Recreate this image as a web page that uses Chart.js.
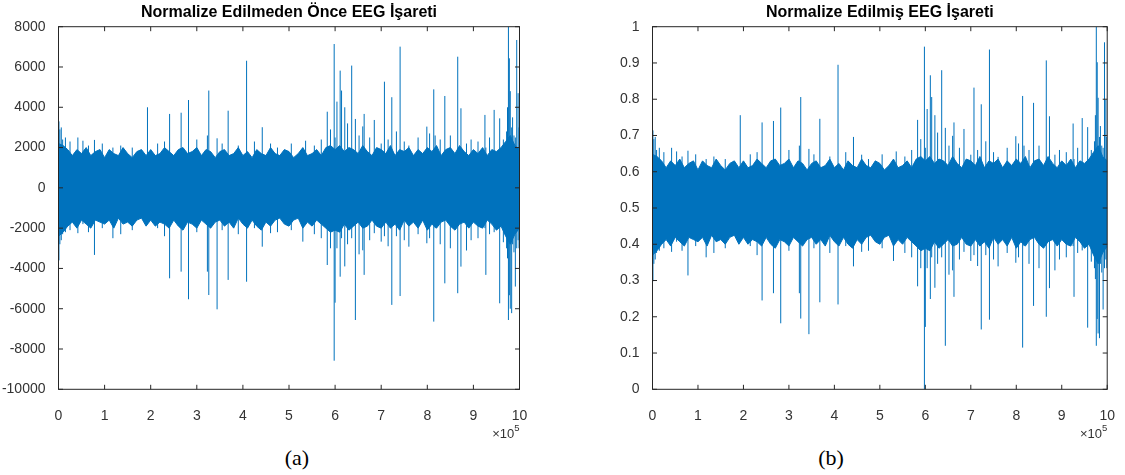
<!DOCTYPE html>
<html>
<head>
<meta charset="utf-8">
<script src="https://cdn.jsdelivr.net/npm/chart.js@4.4.1/dist/chart.umd.min.js"></script>
<style>
  body { margin: 0; background: #fff; width: 1125px; height: 475px; overflow: hidden; position: relative; }
  canvas { position: absolute; top: 0; }
  #rawChart { left: 0; }
  #normChart { left: 562px; }
  .cap { position: absolute; top: 445px; width: 60px; text-align: center; line-height: 26px;
         font-family: "Liberation Serif", "Times New Roman", serif; font-size: 22px; color: #000; }
</style>
</head>
<body>
<canvas id="rawChart" width="562" height="445"></canvas>
<canvas id="normChart" width="563" height="445"></canvas>
<div class="cap" style="left:267px">(a)</div>
<div class="cap" style="left:801px">(b)</div>
<script>
// sample index, in units of 10^5
const bandX = [0,0.1,0.2,0.3,0.4,0.5,0.6,0.7,0.8,0.9,
  1,1.1,1.2,1.3,1.4,1.5,1.6,1.7,1.8,1.9,
  2,2.1,2.2,2.3,2.4,2.5,2.6,2.7,2.8,2.9,
  3,3.1,3.2,3.3,3.4,3.5,3.6,3.7,3.8,3.9,
  4,4.1,4.2,4.3,4.4,4.5,4.6,4.7,4.8,4.9,
  5,5.1,5.2,5.3,5.4,5.5,5.6,5.7,5.8,5.9,
  6,6.1,6.2,6.3,6.4,6.5,6.6,6.7,6.8,6.9,
  7,7.1,7.2,7.3,7.4,7.5,7.6,7.7,7.8,7.9,
  8,8.1,8.2,8.3,8.4,8.5,8.6,8.7,8.8,8.9,
  9,9.1,9.2,9.3,9.4,9.5,9.6,9.7,9.8,9.9,
  10];

// envelope of the dense part of the signal (raw)
const rawHi = [2200,2100,1900,1600,1900,1700,2000,1600,1800,1900,
  1500,1900,1700,1600,2000,1700,1500,1800,1900,1600,
  1900,1600,1700,2000,1800,1600,1900,2000,1700,1800,
  2000,1600,1900,1800,1500,1800,1900,1600,1700,2000,
  1600,1800,1500,1900,1700,1600,2000,1700,1600,1900,
  1800,1500,1700,2000,1600,1700,1900,1600,2000,2100,
  1900,2100,1800,2000,1900,1700,2100,1800,1600,2000,
  1900,1700,2100,1600,1900,1800,2000,1600,1900,1700,
  2000,1800,2100,1600,1900,2000,1700,2100,1800,1600,
  1900,1700,2000,1600,1900,1800,2000,2300,2600,2100,
  1900];
const rawLo = [-2400,-2200,-1900,-1700,-2000,-1600,-1800,-2000,-1600,-1700,
  -1800,-1600,-2000,-1500,-1800,-1700,-1900,-1600,-1500,-1900,
  -1600,-1900,-1700,-1800,-2000,-1600,-1900,-2100,-1700,-1800,
  -2000,-1600,-1800,-2000,-1700,-1600,-1900,-1700,-2000,-1500,
  -1800,-2000,-1600,-1900,-2100,-1700,-1900,-1600,-1500,-1800,
  -1900,-1600,-1500,-2000,-1700,-1900,-1600,-1800,-2000,-2200,
  -2100,-2200,-1800,-2100,-1900,-1700,-2000,-1900,-1600,-1900,
  -2000,-1700,-2000,-1800,-2100,-1600,-1900,-1700,-2000,-1600,
  -2100,-1800,-2000,-1700,-1600,-1900,-2100,-1800,-1700,-2000,
  -1700,-1900,-2000,-1600,-1800,-2100,-1900,-2400,-2800,-2300,
  -2000];

// same envelope, normalized
const normHi = [0.648,0.642,0.630,0.611,0.630,0.617,0.635,0.611,0.623,0.630,
  0.605,0.630,0.617,0.611,0.635,0.617,0.605,0.623,0.630,0.611,
  0.630,0.611,0.617,0.635,0.623,0.611,0.630,0.635,0.617,0.623,
  0.635,0.611,0.630,0.623,0.605,0.623,0.630,0.611,0.617,0.635,
  0.611,0.623,0.605,0.630,0.617,0.611,0.635,0.617,0.611,0.630,
  0.623,0.605,0.617,0.635,0.611,0.617,0.630,0.611,0.635,0.642,
  0.630,0.642,0.623,0.635,0.630,0.617,0.642,0.623,0.611,0.635,
  0.630,0.617,0.642,0.611,0.630,0.623,0.635,0.611,0.630,0.617,
  0.635,0.623,0.642,0.611,0.630,0.635,0.617,0.642,0.623,0.611,
  0.630,0.617,0.635,0.611,0.630,0.623,0.635,0.654,0.672,0.642,
  0.630];
const normLo = [0.370,0.382,0.400,0.413,0.395,0.419,0.407,0.395,0.419,0.413,
  0.407,0.419,0.395,0.425,0.407,0.413,0.400,0.419,0.425,0.400,
  0.419,0.400,0.413,0.407,0.395,0.419,0.400,0.389,0.413,0.407,
  0.395,0.419,0.407,0.395,0.413,0.419,0.400,0.413,0.395,0.425,
  0.407,0.395,0.419,0.400,0.389,0.413,0.400,0.419,0.425,0.407,
  0.400,0.419,0.425,0.395,0.413,0.400,0.419,0.407,0.395,0.382,
  0.389,0.382,0.407,0.389,0.400,0.413,0.395,0.400,0.419,0.400,
  0.395,0.413,0.395,0.407,0.389,0.419,0.400,0.413,0.395,0.419,
  0.389,0.407,0.395,0.413,0.419,0.400,0.389,0.407,0.413,0.395,
  0.413,0.400,0.395,0.419,0.407,0.389,0.400,0.370,0.346,0.376,
  0.395];

// small bursts along the edge of the band
const fringeX = [0.01,0.03,0.06,0.09,0.15,0.25,0.65,0.95,1.35,1.60,
  2.15,2.30,3.00,3.55,3.90,4.25,4.75,5.05,5.55,5.70,
  5.90,6.27,6.52,6.75,7.15,7.33,7.50,7.80,8.05,8.28,
  8.50,8.95,9.10,9.35,9.65,9.72,9.85,9.88,9.99];
const rawFringeHi = [3300,2900,3000,2400,2500,2300,2100,2200,2100,2000,
  2200,2300,2400,2200,2100,2300,2000,2200,2100,2400,
  2900,3200,2600,2500,2400,2800,2300,2500,2700,2400,
  2600,2400,2300,2500,2400,2800,3500,2600,3000];
const rawFringeLo = [-3600,-2800,-2600,-2300,-2200,-2100,-2200,-2000,-2300,-2100,
  -2000,-2400,-2200,-2100,-2300,-2000,-2200,-2100,-2300,-2500,
  -3000,-2800,-3300,-2600,-2900,-2400,-2600,-2300,-2500,-2800,
  -3000,-2600,-2500,-2300,-2700,-3000,-2800,-3200,-3000];
const normFringeHi = [0.714,0.690,0.696,0.660,0.666,0.654,0.642,0.648,0.642,0.635,
  0.648,0.654,0.660,0.648,0.642,0.654,0.635,0.648,0.642,0.660,
  0.690,0.708,0.672,0.666,0.660,0.684,0.654,0.666,0.678,0.660,
  0.672,0.660,0.654,0.666,0.660,0.684,0.726,0.672,0.696];
const normFringeLo = [0.298,0.346,0.358,0.376,0.382,0.389,0.382,0.395,0.376,0.389,
  0.395,0.370,0.382,0.389,0.376,0.395,0.382,0.389,0.376,0.364,
  0.334,0.346,0.316,0.358,0.340,0.370,0.358,0.376,0.364,0.346,
  0.334,0.358,0.364,0.376,0.352,0.334,0.346,0.322,0.334];

// isolated spikes (artifacts)
const spikeX = [0.42,0.53,0.78,1.18,1.93, 2.41,2.66,2.82,3.23,3.26,
  3.44,3.68,4.08,4.42,4.60, 5.30,5.36,5.83,5.98,6.00,
  6.04,6.11,6.14,6.21,6.36, 6.44,6.60,6.63,6.85,7.00,
  7.07,7.23,7.41,7.60,7.99, 8.14,8.17,8.38,8.66,8.73,
  8.85,9.25,9.27,9.45,9.57, 9.74,9.76,9.78,9.80,9.83,
  9.91,9.94,9.97];
const rawSpikeHi = [2500,2340,2380,2000,4000, 3670,3730,4360,2600,4830,
  2460,3830,6310,3010,2200, 1900,2340,3780,7140,2500,
  4280,5820,4830,4000,6070, 3420,3050,3670,3370,2200,
  5270,4500,7010,2100,3040, 4890,2600,4560,6510,3950,
  2200,3620,2000,3870,3450, 4000,8050,6430,4800,3000,
  2500,7340,4700];
const rawSpikeLo = [-2250,-1800,-3330,-2500,-1800, -4490,-4160,-5530,-4160,-5320,
  -6030,-4570,-4660,-2920,-2250, -2670,-1800,-3830,-8580,-5700,
  -3000,-4410,-2500,-3900,-2500, -6560,-3100,-4320,-2250,-2670,
  -2400,-5810,-5370,-2920,-2750, -6640,-2000,-4740,-5230,-3910,
  -3110,-2000,-4320,-2200,-5730, -3500,-6560,-5330,-6000,-6220,
  -4900,-3000,-2600];
const normSpikeHi = [0.666,0.656,0.658,0.635,0.756, 0.736,0.740,0.777,0.672,0.806,
  0.663,0.746,0.895,0.696,0.647, 0.629,0.656,0.743,0.945,0.666,
  0.773,0.866,0.806,0.756,0.880, 0.721,0.699,0.736,0.718,0.647,
  0.832,0.786,0.937,0.641,0.698, 0.809,0.672,0.790,0.907,0.753,
  0.647,0.733,0.635,0.748,0.723, 0.756,1.0,0.902,0.804,0.696,
  0.666,0.957,0.798];
const normSpikeLo = [0.379,0.407,0.314,0.364,0.407, 0.245,0.265,0.182,0.265,0.195,
  0.152,0.240,0.234,0.339,0.379, 0.354,0.407,0.284,0.0,0.172,
  0.334,0.249,0.364,0.280,0.364, 0.120,0.328,0.255,0.379,0.354,
  0.370,0.165,0.192,0.339,0.349, 0.115,0.395,0.230,0.200,0.279,
  0.328,0.395,0.255,0.383,0.170, 0.304,0.120,0.194,0.154,0.141,
  0.220,0.334,0.358];

const xTicks = [0,1,2,3,4,5,6,7,8,9,10];

const BLUE = '#0072BD';
const FONT = '"Liberation Sans", Arial, sans-serif';

// MATLAB style box with inner ticks and the x10^5 exponent
const matlabBox = {
  id: 'matlabBox',
  afterDraw(chart) {
    const ctx = chart.ctx;
    const a = chart.chartArea;
    const xs = chart.scales.x, ys = chart.scales.y;
    ctx.save();
    ctx.strokeStyle = '#262626';
    ctx.lineWidth = 1;
    ctx.strokeRect(a.left, a.top, a.right - a.left, a.bottom - a.top);
    ctx.beginPath();
    xs.ticks.forEach(t => {
      const px = xs.getPixelForValue(t.value);
      ctx.moveTo(px, a.bottom); ctx.lineTo(px, a.bottom - 4.5);
      ctx.moveTo(px, a.top); ctx.lineTo(px, a.top + 4.5);
    });
    ys.ticks.forEach(t => {
      const py = ys.getPixelForValue(t.value);
      ctx.moveTo(a.left, py); ctx.lineTo(a.left + 4.5, py);
      ctx.moveTo(a.right, py); ctx.lineTo(a.right - 4.5, py);
    });
    ctx.stroke();
    ctx.fillStyle = '#333';
    ctx.textAlign = 'right';
    ctx.textBaseline = 'alphabetic';
    ctx.font = '9.5px ' + FONT;
    ctx.fillText('5', a.right, a.bottom + 42);
    const w5 = ctx.measureText('5').width;
    ctx.font = '13px ' + FONT;
    ctx.fillText('\u00d710', a.right - w5, a.bottom + 49);
    ctx.restore();
  }
};

function spikePoints(xs, hi, lo) {
  const pts = [];
  xs.forEach((x, i) => {
    pts.push({x: x, y: lo[i]}, {x: x, y: hi[i]}, {x: x, y: null});
  });
  return pts;
}

function makeChart(id, title, d, yMin, yMax, yStep, yWidth, padRight, fmt) {
  const ctx = document.getElementById(id).getContext('2d');
  return new Chart(ctx, {
    type: 'line',
    data: {
      datasets: [
        {
          data: bandX.map((x, i) => ({x: x, y: d.hi[i]})),
          borderColor: BLUE,
          backgroundColor: BLUE,
          borderWidth: 1,
          fill: '+1',
          pointRadius: 0
        },
        {
          data: bandX.map((x, i) => ({x: x, y: d.lo[i]})),
          borderColor: BLUE,
          borderWidth: 1,
          fill: false,
          pointRadius: 0
        },
        {
          data: spikePoints(fringeX, d.fHi, d.fLo),
          borderColor: BLUE,
          borderWidth: 1,
          fill: false,
          spanGaps: false,
          pointRadius: 0
        },
        {
          data: spikePoints(spikeX, d.sHi, d.sLo),
          borderColor: BLUE,
          borderWidth: 1,
          fill: false,
          spanGaps: false,
          pointRadius: 0
        }
      ]
    },
    options: {
      responsive: false,
      animation: false,
      events: [],
      layout: { padding: { left: 0, right: padRight, top: 0, bottom: 0 } },
      plugins: {
        legend: { display: false },
        tooltip: { enabled: false },
        title: {
          display: true,
          text: title,
          fullSize: false,
          color: '#000',
          font: { family: FONT, size: 16, weight: 'bold' },
          padding: { top: 3, bottom: 4.5 }
        }
      },
      scales: {
        x: {
          type: 'linear',
          min: 0,
          max: 10,
          afterBuildTicks: s => { s.ticks = xTicks.map(v => ({value: v})); },
          afterFit: s => { s.height = 55.7; },
          grid: { display: false },
          border: { display: false },
          ticks: { padding: 10, maxRotation: 0, autoSkip: false, color: '#333',
                   font: { family: FONT, size: 14 }, callback: v => String(v) }
        },
        y: {
          min: yMin,
          max: yMax,
          afterFit: s => { s.width = yWidth; },
          grid: { display: false },
          border: { display: false },
          ticks: { stepSize: yStep, padding: 5, color: '#333',
                   font: { family: FONT, size: 14 }, callback: fmt }
        }
      }
    },
    plugins: [matlabBox]
  });
}

makeChart('rawChart', 'Normalize Edilmeden \u00d6nce EEG \u0130\u015fareti',
  { hi: rawHi, lo: rawLo, fHi: rawFringeHi, fLo: rawFringeLo, sHi: rawSpikeHi, sLo: rawSpikeLo },
  -10000, 8000, 2000, 58.5, 42.5, v => String(v));
makeChart('normChart', 'Normalize Edilmi\u015f EEG \u0130\u015fareti',
  { hi: normHi, lo: normLo, fHi: normFringeHi, fLo: normFringeLo, sHi: normSpikeHi, sLo: normSpikeLo },
  0, 1, 0.1, 90.5, 13.5, v => String(Math.round(v * 10) / 10));
</script>
</body>
</html>
